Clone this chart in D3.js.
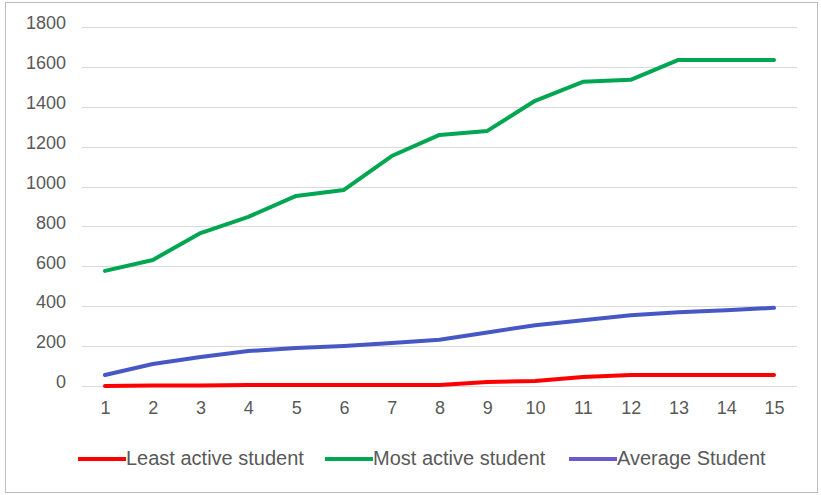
<!DOCTYPE html>
<html lang="en">
<head>
    <meta charset="utf-8">
    <title>Student activity</title>
    <script src="https://d3js.org/d3.v7.min.js"></script>
    <style>
        body {
            margin: 0;
            padding: 0;
            background-color: #fff;
            font-family: "Liberation Sans", Arial, sans-serif;
        }

        .grid line {
            stroke: #d9d9d9;
            stroke-width: 1px;
        }

        .axis text {
            fill: #595959;
            font-size: 18px;
        }

        .series {
            fill: none;
            stroke-width: 4px;
            stroke-linejoin: round;
            stroke-linecap: round;
        }

        .legend text {
            fill: #595959;
            font-size: 20px;
        }
    </style>
</head>
<body>
<svg></svg>
<script>
    const weeks = d3.range(1, 16);
    const yTicks = [0, 200, 400, 600, 800, 1000, 1200, 1400, 1600, 1800];

    const leastActive = [0, 2, 3, 5, 5, 5, 5, 5, 20, 25, 45, 55, 55, 55, 55];
    const mostActive = [577, 632, 767, 848, 953, 983, 1153, 1259, 1279, 1430, 1525, 1535, 1635, 1635, 1635];
    const averageStudent = [55, 110, 145, 175, 190, 200, 215, 232, 268, 305, 330, 355, 370, 380, 392];

    const seriesNames = ["Least active student", "Most active student", "Average Student"];
    const seriesColors = ["#ff0000", "#00a651", "#4758c4"];
    const legendColors = ["#ff0000", "#00a651", "#6a5acd"];

    const width = 821;
    const height = 495;

    const svg = d3.select("svg")
        .attr("width", width)
        .attr("height", height);

    // frame of the scanned figure
    svg.append("rect")
        .attr("x", 5.5)
        .attr("y", 2.5)
        .attr("width", 812)
        .attr("height", 490)
        .attr("fill", "none")
        .attr("stroke", "#bdbdbd");

    const x = d3.scalePoint()
        .domain(weeks)
        .range([105, 774]);

    const y = d3.scaleLinear()
        .domain([0, 1800])
        .range([386, 27]);

    // gridlines
    svg.append("g")
        .attr("class", "grid")
        .selectAll("line")
        .data(yTicks)
        .join("line")
        .attr("x1", 82)
        .attr("x2", 797)
        .attr("y1", d => Math.round(y(d)) + 0.5)
        .attr("y2", d => Math.round(y(d)) + 0.5);

    // y axis labels
    const yAxis = svg.append("g")
        .attr("class", "axis")
        .attr("transform", "translate(66,-4)")
        .call(d3.axisLeft(y).tickValues(yTicks).tickFormat(d3.format("d")).tickSize(0).tickPadding(0));
    yAxis.select(".domain").remove();
    yAxis.selectAll("text").attr("font-family", null).attr("font-size", null);

    // x axis labels
    const xAxis = svg.append("g")
        .attr("class", "axis")
        .attr("transform", "translate(0,401)")
        .call(d3.axisBottom(x).tickSize(0).tickPadding(0));
    xAxis.select(".domain").remove();
    xAxis.selectAll("text").attr("font-family", null).attr("font-size", null);

    const line = d3.line()
        .x((d, i) => x(weeks[i]))
        .y(d => y(d));

    const allSeries = [leastActive, mostActive, averageStudent];

    svg.append("g")
        .selectAll("path")
        .data(allSeries)
        .join("path")
        .attr("class", "series")
        .attr("stroke", (d, i) => seriesColors[i])
        .attr("d", line);

    // legend
    const legendX = [78, 325, 569];
    const legend = svg.append("g")
        .attr("class", "legend")
        .selectAll("g")
        .data(seriesNames)
        .join("g")
        .attr("transform", (d, i) => `translate(${legendX[i]},459)`);

    legend.append("line")
        .attr("x1", 0)
        .attr("x2", 48)
        .attr("stroke", (d, i) => legendColors[i])
        .attr("stroke-width", 4);

    legend.append("text")
        .attr("x", 48)
        .attr("dy", "0.3em")
        .text(d => d);
</script>
</body>
</html>
